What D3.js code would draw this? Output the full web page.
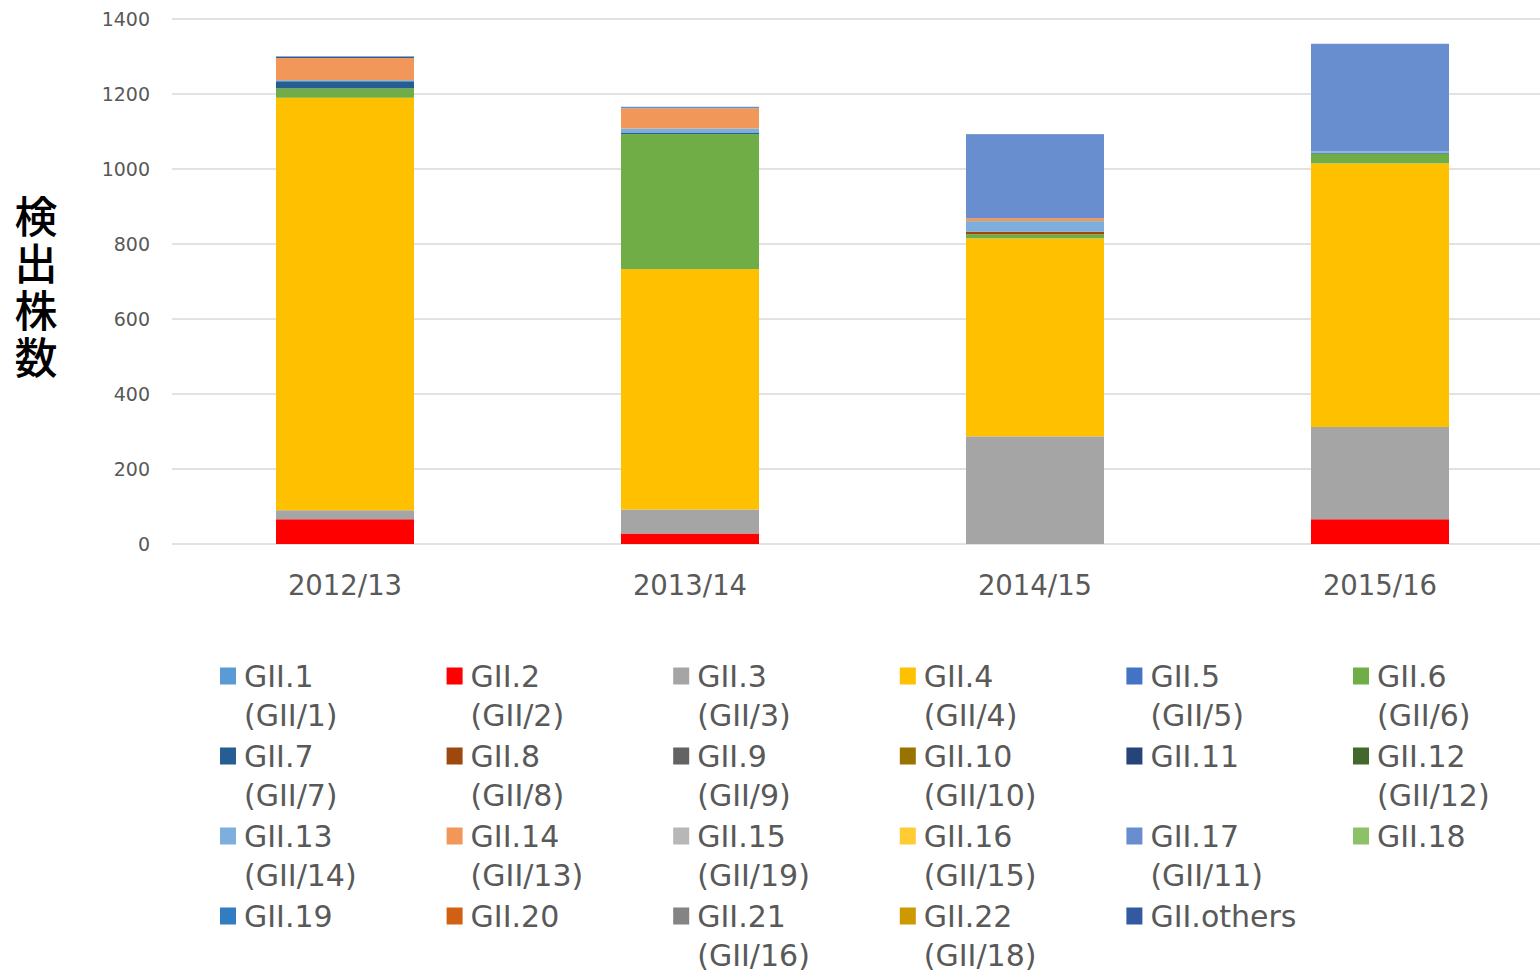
<!DOCTYPE html>
<html>
<head>
<meta charset='utf-8' />
<title>GII detections by season</title>
<script src="https://d3js.org/d3.v7.min.js"></script>
<style>
body { margin: 0; padding: 0; background: #fff; }
#chart { width: 1540px; height: 972px; }
</style>
</head>
<body>
<div id='chart'></div>

<script>

// seasons on the x axis
var seasons = ["2012/13", "2013/14", "2014/15", "2015/16"];

// genotype names, old names, colours
var genotypes = ["GII.1","GII.2","GII.3","GII.4","GII.5","GII.6","GII.7","GII.8","GII.9","GII.10","GII.11","GII.12",
  "GII.13","GII.14","GII.15","GII.16","GII.17","GII.18","GII.19","GII.20","GII.21","GII.22","GII.others"];
var oldNames = ["(GII/1)","(GII/2)","(GII/3)","(GII/4)","(GII/5)","(GII/6)","(GII/7)","(GII/8)","(GII/9)","(GII/10)","","(GII/12)",
  "(GII/14)","(GII/13)","(GII/19)","(GII/15)","(GII/11)","","","","(GII/16)","(GII/18)",""];
var colors = ["#5b9bd5","#ff0000","#a5a5a5","#ffc000","#4472c4","#70ad47","#255e91","#9e480e","#636363","#997300","#264478","#43682b",
  "#7cafdd","#f1975a","#b7b7b7","#ffcd33","#698ed0","#8cc168","#327dc2","#d26012","#848484","#cc9a00","#335aa1"];

// detected strains per season, one array per genotype
var gii1   = [0, 0, 0, 0];
var gii2   = [66, 28, 0, 66];
var gii3   = [24, 64, 287, 246];
var gii4   = [1100, 641, 528, 703];
var gii5   = [0, 0, 0, 0];
var gii6   = [25, 360, 11, 26];
var gii7   = [19, 3, 0, 2];
var gii8   = [0, 0, 7, 0];
var gii9   = [0, 0, 0, 0];
var gii10  = [0, 0, 0, 0];
var gii11  = [0, 0, 0, 0];
var gii12  = [0, 0, 0, 0];
var gii13  = [3, 12, 28, 4];
var gii14  = [59, 54, 8, 0];
var gii15  = [0, 0, 0, 0];
var gii16  = [0, 0, 0, 0];
var gii17  = [0, 4, 224, 287];
var gii18  = [0, 0, 0, 0];
var gii19  = [0, 0, 0, 0];
var gii20  = [0, 0, 0, 0];
var gii21  = [0, 0, 0, 0];
var gii22  = [0, 0, 0, 0];
var others = [4, 0, 0, 0];

var yTicks = [0, 200, 400, 600, 800, 1000, 1200, 1400];

var seriesValues = [gii1,gii2,gii3,gii4,gii5,gii6,gii7,gii8,gii9,gii10,gii11,gii12,
  gii13,gii14,gii15,gii16,gii17,gii18,gii19,gii20,gii21,gii22,others];

// table for d3.stack
var data = seasons.map(function(s, i) {
  var row = { season: s };
  genotypes.forEach(function(g, j) { row[g] = seriesValues[j][i]; });
  return row;
});

var width = 1540, height = 972;
var font = "'DejaVu Sans', Verdana, sans-serif";

var svg = d3.select("#chart")
  .append("svg")
    .attr("width", width)
    .attr("height", height);

var x = d3.scaleBand()
  .domain(seasons)
  .range([172.5, 1552.5])
  .paddingInner(0.6)
  .paddingOuter(0.3);

var y = d3.scaleLinear()
  .domain([0, 1400])
  .range([544, 19]);

var color = d3.scaleOrdinal()
  .domain(genotypes)
  .range(colors);

//////////
// GRID + AXES //
//////////

svg.append("g")
  .selectAll("line")
  .data(yTicks)
  .enter()
  .append("line")
    .attr("x1", 172)
    .attr("x2", 1540)
    .attr("y1", function(d) { return y(d); })
    .attr("y2", function(d) { return y(d); })
    .style("stroke", "#d9d9d9")
    .style("stroke-width", 1.5);

var yAxis = svg.append("g")
  .attr("transform", "translate(172,0)")
  .call(d3.axisLeft(y).tickValues(yTicks).tickFormat(d3.format("d")).tickSize(0).tickPadding(22));
yAxis.select(".domain").remove();
yAxis.selectAll("text")
  .style("font-family", font)
  .style("font-size", "19px")
  .style("fill", "#595959");

var xAxis = svg.append("g")
  .attr("transform", "translate(0,544)")
  .call(d3.axisBottom(x).tickSize(0).tickPadding(31));
xAxis.select(".domain").remove();
xAxis.selectAll("text")
  .style("font-family", font)
  .style("font-size", "27.5px")
  .style("fill", "#595959");

// vertical y-axis title
svg.append("text")
  .attr("x", 36)
  .attr("y", 195)
  .style("writing-mode", "vertical-rl")
  .style("text-orientation", "upright")
  .style("letter-spacing", "4px")
  .style("font-family", "'Noto Sans CJK JP', sans-serif")
  .style("font-size", "43px")
  .style("font-weight", 500)
  .style("fill", "#000")
  .text("検出株数");

//////////
// BARS //
//////////

var stackedData = d3.stack()
  .keys(genotypes)
  (data);

svg.append("g")
  .selectAll("g")
  .data(stackedData)
  .enter()
  .append("g")
    .style("fill", function(d) { return color(d.key); })
  .selectAll("rect")
  .data(function(d) { return d; })
  .enter()
  .append("rect")
    .attr("x", function(d) { return x(d.data.season); })
    .attr("width", x.bandwidth())
    .attr("y", function(d) { return y(d[1]); })
    .attr("height", function(d) { return y(d[0]) - y(d[1]); });

//////////
// LEGEND //
//////////

var colStep = 226.6, rowStep = 80;

var legend = svg.append("g")
  .selectAll("g")
  .data(genotypes)
  .enter()
  .append("g")
    .attr("transform", function(d, i) {
      return "translate(" + (220 + (i % 6) * colStep) + "," + (676 + Math.floor(i / 6) * rowStep) + ")";
    });

legend.append("rect")
  .attr("x", 0)
  .attr("y", -8.5)
  .attr("width", 16)
  .attr("height", 17)
  .style("fill", function(d) { return color(d); });

legend.append("text")
  .attr("x", 24)
  .attr("y", 0)
  .attr("dominant-baseline", "central")
  .style("font-family", font)
  .style("font-size", "30px")
  .style("fill", "#595959")
  .text(function(d) { return d; });

legend.append("text")
  .attr("x", 24)
  .attr("y", 39)
  .attr("dominant-baseline", "central")
  .style("font-family", font)
  .style("font-size", "30px")
  .style("fill", "#595959")
  .text(function(d, i) { return oldNames[i]; });

</script>

</body>
</html>
